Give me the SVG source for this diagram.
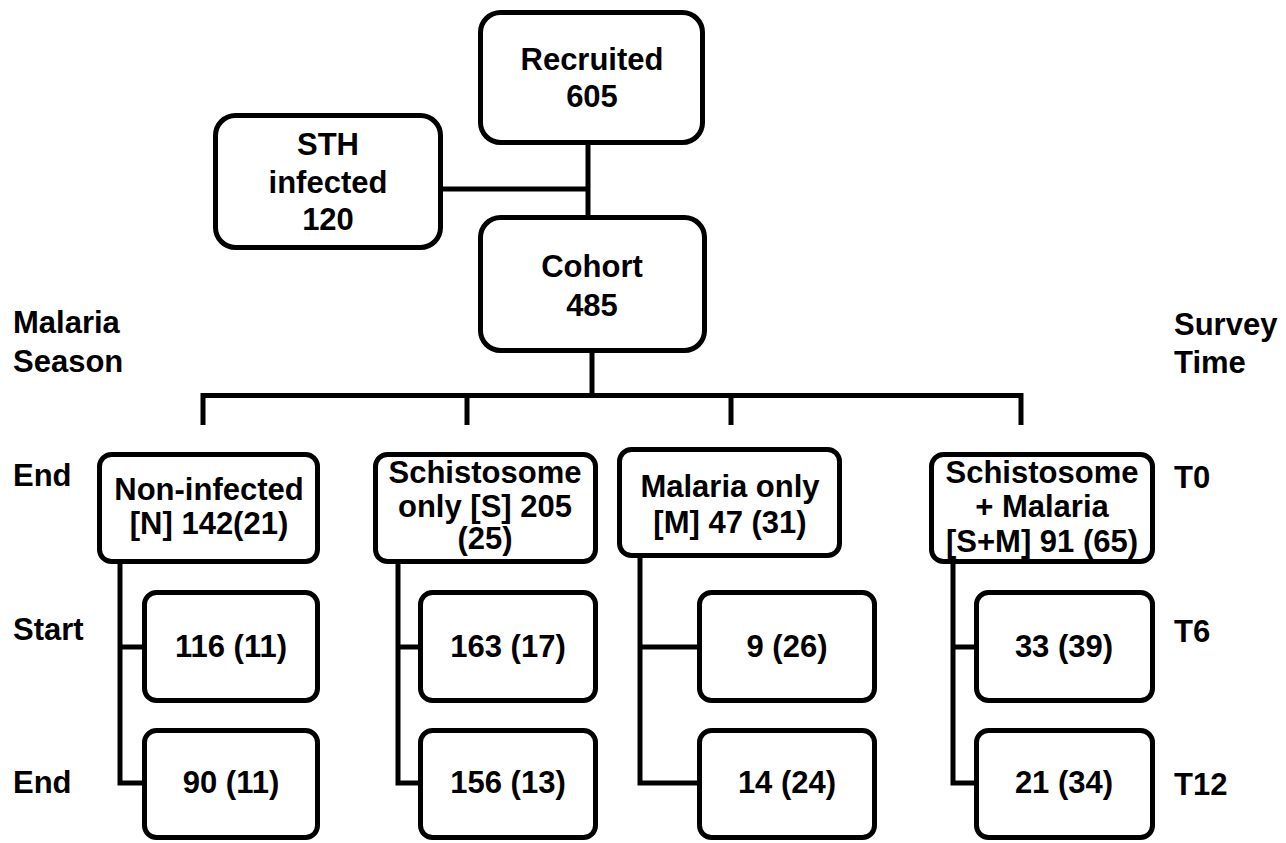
<svg xmlns="http://www.w3.org/2000/svg" width="1286" height="843" viewBox="0 0 1286 843">
<style>
.box{fill:#fff;stroke:#000;stroke-width:5}
.ln{fill:none;stroke:#000;stroke-width:5;stroke-linejoin:miter;stroke-linecap:butt}
text{font-family:"Liberation Sans",Arial,sans-serif;font-weight:bold;font-size:31px;fill:#000}
.c{text-anchor:middle}
</style>
<rect width="1286" height="843" fill="#fff"/>
<g id="connectors">
<path class="ln" d="M588 145V215M443 189H588"/>
<path class="ln" d="M592 353V395"/>
<path class="ln" d="M203 425V395.5H1021V425M467 395.5V425M731 395.5V425"/>
<path class="ln" d="M120 564V783H142M120 647H142"/>
<path class="ln" d="M398 564V783H418M398 647H418"/>
<path class="ln" d="M640 558V783H697M640 647H697"/>
<path class="ln" d="M953 564V783H974M953 647H974"/>
</g>
<g id="recruited"><rect class="box" x="480.5" y="12.5" width="222" height="130" rx="20"/>
<text class="c" x="592" y="70">Recruited</text><text class="c" x="592" y="107">605</text></g>
<g id="sth"><rect class="box" x="215.5" y="115.5" width="225" height="132" rx="20"/>
<text class="c" x="328" y="155">STH</text><text class="c" x="328" y="193">infected</text><text class="c" x="328" y="230">120</text></g>
<g id="cohort"><rect class="box" x="480.5" y="217.5" width="224" height="133" rx="20"/>
<text class="c" x="592" y="277">Cohort</text><text class="c" x="592" y="316">485</text></g>
<g id="n"><rect class="box" x="99.5" y="454.5" width="218" height="107" rx="12"/>
<text class="c" x="209" y="500">Non-infected</text><text class="c" x="209" y="534">[N] 142(21)</text></g>
<g id="s"><rect class="box" x="375.5" y="454.5" width="220" height="107" rx="12"/>
<text class="c" x="485" y="483">Schistosome</text><text class="c" x="485" y="517">only [S] 205</text><text class="c" x="485" y="549">(25)</text></g>
<g id="m"><rect class="box" x="619.5" y="449.5" width="220" height="106" rx="12"/>
<text class="c" x="730" y="497">Malaria only</text><text class="c" x="730" y="533">[M] 47 (31)</text></g>
<g id="sm"><rect class="box" x="931.5" y="454.5" width="221" height="107" rx="12"/>
<text class="c" x="1042" y="483">Schistosome</text><text class="c" x="1042" y="517">+ Malaria</text><text class="c" x="1042" y="552">[S+M] 91 (65)</text></g>
<g id="n6"><rect class="box" x="144.5" y="592.5" width="173" height="108" rx="12"/><text class="c" x="231" y="657">116 (11)</text></g>
<g id="n12"><rect class="box" x="144.5" y="730.5" width="173" height="107" rx="12"/><text class="c" x="231" y="793">90 (11)</text></g>
<g id="s6"><rect class="box" x="420.5" y="592.5" width="175" height="108" rx="12"/><text class="c" x="508" y="657">163 (17)</text></g>
<g id="s12"><rect class="box" x="420.5" y="730.5" width="175" height="107" rx="12"/><text class="c" x="508" y="793">156 (13)</text></g>
<g id="m6"><rect class="box" x="699.5" y="592.5" width="175" height="108" rx="12"/><text class="c" x="787" y="657">9 (26)</text></g>
<g id="m12"><rect class="box" x="699.5" y="730.5" width="175" height="107" rx="12"/><text class="c" x="787" y="793">14 (24)</text></g>
<g id="sm6"><rect class="box" x="976.5" y="592.5" width="176" height="108" rx="12"/><text class="c" x="1064" y="657">33 (39)</text></g>
<g id="sm12"><rect class="box" x="976.5" y="730.5" width="176" height="107" rx="12"/><text class="c" x="1064" y="793">21 (34)</text></g>
<g id="labels">
<text x="13" y="333">Malaria</text><text x="13" y="372">Season</text>
<text x="13" y="486">End</text><text x="13" y="640">Start</text><text x="13" y="793">End</text>
<text x="1174" y="335">Survey</text><text x="1174" y="373">Time</text>
<text x="1174" y="488">T0</text><text x="1174" y="642">T6</text><text x="1174" y="795">T12</text>
</g>
</svg>
